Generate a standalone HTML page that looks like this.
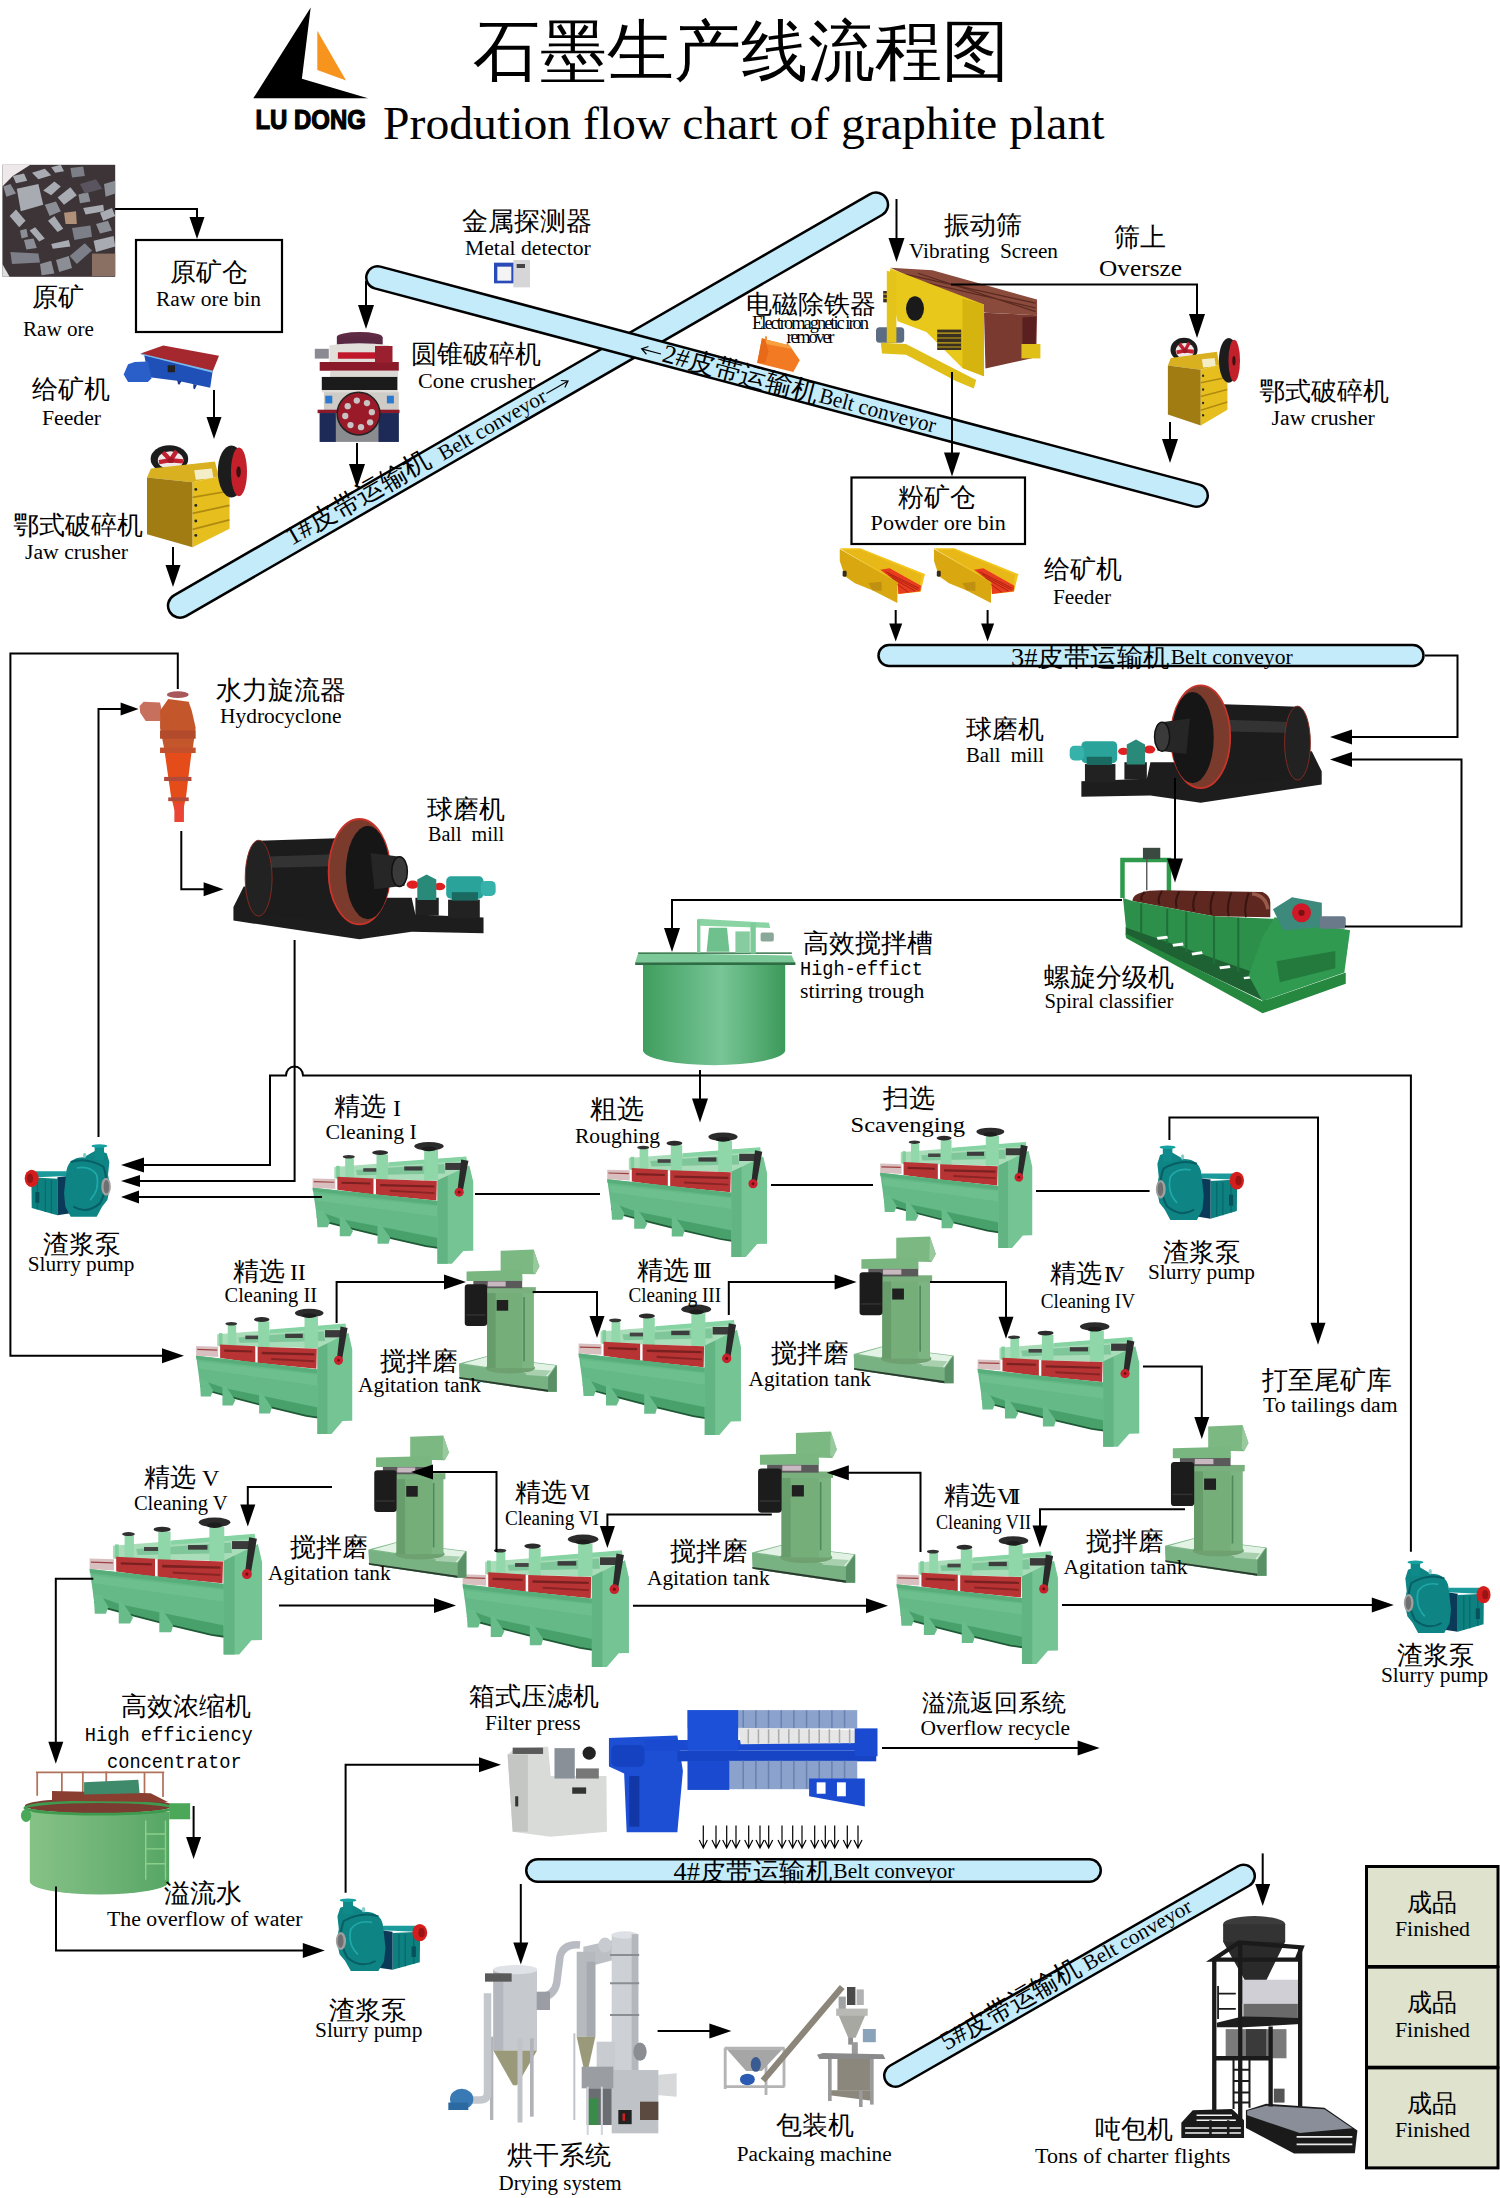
<!DOCTYPE html><html><head><meta charset="utf-8"><title>Graphite plant flow chart</title>
<style>html,body{margin:0;padding:0;background:#fff;}svg{display:block;}text{font-family:"Liberation Serif",serif;fill:#000;}.mono{font-family:"Liberation Mono",monospace;}</style></head><body>
<svg width="1500" height="2198" viewBox="0 0 1500 2198">
<rect width="1500" height="2198" fill="#fff"/>
<defs>
<g id="flot">
 <polygon points="240,275 1330,190 1345,395 240,372" fill="#a9dcb8"/>
 <polygon points="420,300 1150,250 1160,330 430,345" fill="#7fc79a"/>
 <rect x="1160" y="240" width="140" height="60" fill="#3a3a3a"/>
 <rect x="820" y="270" width="150" height="35" fill="#3d3d3d"/>
 <rect x="480" y="285" width="110" height="30" fill="#444"/>
 <polygon points="690,235 1335,185 1340,222 690,268" fill="#86d3a3"/>
 <rect x="985" y="130" width="115" height="260" fill="#8fd6a8"/>
 <rect x="590" y="168" width="95" height="215" fill="#8fd6a8"/>
 <rect x="330" y="195" width="72" height="170" fill="#93d8ab"/>
 <rect x="255" y="265" width="30" height="110" fill="#7fcf9c"/>
 <ellipse cx="1025" cy="98" rx="122" ry="36" fill="#2b2b2b"/>
 <ellipse cx="1025" cy="120" rx="60" ry="20" fill="#1d1d1d"/>
 <ellipse cx="620" cy="152" rx="66" ry="20" fill="#2b2b2b"/>
 <ellipse cx="360" cy="187" rx="50" ry="15" fill="#333"/>
 <polygon points="60,372 248,378 248,462 60,452" fill="#d9c0c0"/>
 <polygon points="70,395 240,400 240,410 70,405" fill="#a04040"/>
 <polygon points="265,358 565,374 565,512 265,470" fill="#b83434"/>
 <polygon points="585,378 1090,394 1086,560 585,512" fill="#b83434"/>
 <polygon points="300,400 540,408 540,425 300,418" fill="#7a2020"/>
 <polygon points="620,420 1070,432 1070,450 620,440" fill="#7a2020"/>
 <polygon points="700,470 1070,490 1070,505 700,487" fill="#8a2424"/>
 <polygon points="60,452 1100,565 1100,965 1000,950 700,880 400,805 200,752 95,700" fill="#64b986"/>
 <polygon points="60,452 1100,565 1100,600 62,482" fill="#58ae7a"/>
 <polygon points="80,500 1100,610 1100,700 90,560" fill="#6fc090" opacity="0.8"/>
 <polygon points="95,700 200,752 400,805 700,880 1000,950 1100,965 1100,880 700,800 300,720 100,650" fill="#3f9a62" opacity="0.75"/>
 <path d="M95,700 L200,752 L400,805 L700,880 L1000,950 L1100,965" fill="none" stroke="#1f5a36" stroke-width="14"/>
 <polygon points="90,640 150,650 205,740 185,790 100,790" fill="#68bc8a"/>
 <polygon points="285,700 310,700 395,820 372,865 285,865" fill="#68bc8a"/>
 <polygon points="598,760 622,760 705,880 690,930 598,930" fill="#68bc8a"/>
 <polygon points="1095,390 1360,262 1392,400 1392,990 1310,992 1215,1100 1095,1100" fill="#74c494"/>
 <polygon points="1095,390 1180,350 1180,1100 1095,1100" fill="#62b482"/>
 <polygon points="1292,210 1352,222 1305,485 1262,472" fill="#2a2a2a"/>
 <circle cx="1275" cy="490" r="38" fill="#c8202c"/>
 <circle cx="1275" cy="490" r="12" fill="#6a1010"/>
</g>
<g id="agit">
 <polygon points="50,1690 430,1590 1412,1712 1412,2090 1300,2090 60,1905" fill="#7fb88a"/>
 <polygon points="52,1700 1290,1885 1290,2088 60,1905" fill="#78b283"/>
 <polygon points="52,1880 1290,2060 1290,2088 60,1905" fill="#2a3a2e"/>
 <polygon points="1290,1885 1412,1712 1412,2088 1290,2088" fill="#5a9066"/>
 <polygon points="110,1690 430,1600 1395,1720 1285,1870" fill="#e2f2e4"/>
 <polygon points="1000,1770 1330,1790 1260,1870 980,1850" fill="#a8cfae"/>
 <ellipse cx="765" cy="1755" rx="345" ry="75" fill="#6fa070"/>
 <rect x="440" y="680" width="650" height="1075" fill="#76ae7a"/>
 <rect x="440" y="680" width="120" height="1075" fill="#679c6b"/>
 <rect x="930" y="700" width="160" height="1055" fill="#7cb482"/>
 <rect x="945" y="760" width="22" height="900" fill="#4e8a5a"/>
 <rect x="575" y="800" width="160" height="150" fill="#202020"/>
 <rect x="410" y="620" width="710" height="85" fill="#79b07e"/>
 <rect x="250" y="525" width="680" height="110" fill="#5a5a5a"/>
 <rect x="450" y="540" width="250" height="70" fill="#c8b8c0"/>
 <polygon points="630,110 1090,92 1170,330 1110,440 630,430" fill="#7cb882"/>
 <polygon points="1090,92 1170,330 1110,440 1080,400" fill="#98ca9e"/>
 <polygon points="155,400 930,380 935,530 155,532" fill="#7ab680"/>
 <rect x="130" y="580" width="312" height="585" rx="45" fill="#1c1c1c"/>
 <rect x="150" y="1000" width="270" height="20" fill="#333"/>
</g>
<g id="pump">
 <polygon points="230,470 690,470 720,540 240,560" fill="#1a9a9a"/>
 <polygon points="170,560 560,580 560,1130 175,1020" fill="#0d8080"/>
 <path d="M260,600 V1040 M380,600 V1080 M470,600 V1100" stroke="#0a6a6e" stroke-width="20"/>
 <polygon points="560,560 720,540 760,1100 560,1130" fill="#0a3a58"/>
 <rect x="230" y="780" width="60" height="160" fill="#08505a"/>
 <ellipse cx="175" cy="575" rx="105" ry="130" fill="#d41e1e"/>
 <ellipse cx="150" cy="575" rx="45" ry="70" fill="#9a1414"/>
 <path d="M690,520 Q700,260 960,260 L1060,200 L1150,150 L1300,200 L1340,330 L1320,520 L1350,700 L1310,900 L1230,1000 L1150,1150 L760,1150 L680,1000 L660,800 Z" fill="#0e8484"/>
 <path d="M760,330 Q1000,250 1250,400 Q1350,650 1200,950 Q1000,1120 800,1000" fill="none" stroke="#075e64" stroke-width="30"/>
 <path d="M850,420 Q1050,380 1150,520 Q1200,750 1050,900" fill="none" stroke="#20a8a8" stroke-width="25"/>
 <rect x="1120" y="100" width="140" height="200" fill="#0f8a8a"/>
 <ellipse cx="1190" cy="88" rx="118" ry="26" fill="#16a0a0"/>
 <ellipse cx="1290" cy="700" rx="72" ry="135" fill="#a0a0a0"/>
 <ellipse cx="1295" cy="700" rx="42" ry="100" fill="#707070"/>
 <ellipse cx="970" cy="230" rx="25" ry="40" fill="#8cc"/>
</g>
<g id="ball">
 <polygon points="45,520 100,410 300,420 740,470 1000,470 1020,560 1385,575 1385,660 1000,652 720,692 45,592" fill="#1d1d1d"/>
 <rect x="1020" y="470" width="125" height="95" fill="#202020"/>
 <rect x="1195" y="480" width="170" height="100" fill="#222"/>
 <path d="M180,165 L640,150 L640,590 L180,565 Z" fill="#1c1c1c"/>
 <path d="M190,250 L630,235 L630,300 L190,310 Z" fill="#333"/>
 <ellipse cx="180" cy="365" rx="72" ry="203" fill="#222" stroke="#8a2a20" stroke-width="5"/>
 <ellipse cx="720" cy="330" rx="165" ry="282" fill="#7a3a2c" stroke="#c8342a" stroke-width="10"/>
 <ellipse cx="765" cy="335" rx="118" ry="250" fill="#161616"/>
 <polygon points="780,230 940,250 962,405 800,425" fill="#262626"/>
 <ellipse cx="935" cy="330" rx="42" ry="80" fill="#3a3a3a" stroke="#111" stroke-width="8"/>
 <ellipse cx="1005" cy="400" rx="32" ry="22" fill="#e02020"/>
 <ellipse cx="1150" cy="410" rx="30" ry="20" fill="#e02020"/>
 <polygon points="1030,372 1080,345 1132,372 1132,482 1030,482" fill="#2a8a7a"/>
 <rect x="1185" y="355" width="200" height="120" rx="25" fill="#2aa39a"/>
 <rect x="1370" y="380" width="80" height="80" rx="25" fill="#36b2aa"/>
 <rect x="1215" y="440" width="140" height="45" fill="#1a6a62"/>
</g>
<g id="jaw">
 <ellipse cx="430" cy="300" rx="235" ry="172" fill="#1c1c1c"/>
 <ellipse cx="445" cy="315" rx="160" ry="112" fill="#f0e8e8"/>
 <path d="M445,315 L350,215 M445,315 L520,200 M445,315 L600,330 M445,315 L300,340" stroke="#c02030" stroke-width="55"/>
 <ellipse cx="445" cy="315" rx="45" ry="35" fill="#a01828"/>
 <polygon points="200,420 1000,330 1045,520 720,592 150,530" fill="#d8b020"/>
 <polygon points="740,440 960,420 980,540 760,560" fill="#f4eec8"/>
 <polygon points="150,530 720,592 720,1402 150,1242" fill="#a07c12"/>
 <polygon points="720,592 1045,520 1182,780 1182,1172 720,1402" fill="#e6bf1e"/>
 <path d="M720,780 L1180,700 M720,980 L1180,880 M720,1180 L1180,1060" stroke="#b08a10" stroke-width="22"/>
 <circle cx="760" cy="680" r="18" fill="#222"/><circle cx="760" cy="880" r="18" fill="#222"/>
 <circle cx="760" cy="1075" r="18" fill="#222"/><circle cx="760" cy="1255" r="18" fill="#222"/>
 <ellipse cx="1205" cy="455" rx="170" ry="325" fill="#1c1c1c"/>
 <ellipse cx="1300" cy="460" rx="100" ry="305" fill="#c4202c"/>
 <ellipse cx="1295" cy="460" rx="28" ry="70" fill="#3a1010"/>
</g>
<g id="yfeed">
 <polygon points="70,80 380,78 1355,470 1340,500 1285,730 950,765 940,600" fill="#f2c41c"/>
 <polygon points="120,110 380,100 1300,480 1270,650 930,560" fill="#e8b818"/>
 <polygon points="680,400 820,380 1290,640 1280,725 950,765 940,600" fill="#e83c1e"/>
 <path d="M760,430 L1260,680 M800,470 L1240,700 M850,520 L1200,720 M880,580 L1100,740" stroke="#a82010" stroke-width="14"/>
 <polygon points="72,90 940,590 935,900 560,710 300,605 150,500 72,270" fill="#d9a810"/>
 <polygon points="500,600 700,580 700,720 560,710" fill="#c09010"/>
 <rect x="115" y="415" width="60" height="90" rx="20" fill="#3a2a18"/>
</g></defs>
<use href="#flot" transform="translate(312.00,1142.40) scale(0.12060,0.11720) translate(-55,-65)"/>
<use href="#flot" transform="translate(606.60,1132.80) scale(0.12000,0.12000) translate(-55,-65)"/>
<use href="#flot" transform="translate(879.60,1128.00) scale(0.11416,0.11594) translate(-55,-65)"/>
<use href="#flot" transform="translate(195.50,1309.00) scale(0.11723,0.12077) translate(-55,-65)"/>
<use href="#flot" transform="translate(578.00,1305.00) scale(0.12187,0.12560) translate(-55,-65)"/>
<use href="#flot" transform="translate(977.00,1322.60) scale(0.12135,0.12000) translate(-55,-65)"/>
<use href="#flot" transform="translate(89.00,1518.00) scale(0.12944,0.13198) translate(-55,-65)"/>
<use href="#flot" transform="translate(462.00,1535.00) scale(0.12487,0.12754) translate(-55,-65)"/>
<use href="#flot" transform="translate(896.00,1536.60) scale(0.12112,0.12309) translate(-55,-65)"/>
<use href="#agit" transform="translate(459.00,1249.00) scale(0.07179,0.07132) translate(-50,-85)"/>
<use href="#agit" transform="translate(853.70,1236.00) scale(0.07333,0.07347) translate(-50,-85)"/>
<use href="#agit" transform="translate(368.50,1435.00) scale(0.07187,0.07132) translate(-50,-85)"/>
<use href="#agit" transform="translate(752.00,1431.00) scale(0.07575,0.07571) translate(-50,-85)"/>
<use href="#agit" transform="translate(1165.00,1424.50) scale(0.07451,0.07556) translate(-50,-85)"/>
<use href="#pump" transform="translate(24.70,1144.70) scale(0.06667,0.06667) translate(-70,-70)"/>
<use href="#pump" transform="translate(1244.00,1146.00) scale(-0.06822,0.06852) translate(-70,-70)"/>
<use href="#pump" transform="translate(1490.60,1561.00) scale(-0.06713,0.06667) translate(-70,-70)"/>
<use href="#pump" transform="translate(427.20,1899.00) scale(-0.07070,0.06667) translate(-70,-70)"/>
<use href="#ball" transform="translate(232.50,818.40) scale(0.18664,0.18677) translate(-40,-45)"/>
<use href="#ball" transform="translate(1322.60,684.80) scale(-0.17936,0.18220) translate(-40,-45)"/>
<use href="#jaw" transform="translate(143.00,445.40) scale(0.08000,0.08000) translate(-100,-130)"/>
<use href="#jaw" transform="translate(1165.00,338.00) scale(0.05769,0.06876) translate(-100,-130)"/>
<use href="#yfeed" transform="translate(839.30,547.70) scale(0.06672,0.06663) translate(-65,-70)"/>
<use href="#yfeed" transform="translate(933.50,547.70) scale(0.06602,0.06663) translate(-65,-70)"/>
<g transform="translate(120,340) scale(0.073335)">
 <polygon points="280,185 590,75 1350,215 1262,432 330,205" fill="#a4282e"/>
 <polygon points="330,205 1262,432 1230,650 800,560 430,512 372,420" fill="#1f50b8"/>
 <polygon points="280,180 1268,420 1262,445 290,200" fill="#7ab8ec"/>
 <polygon points="50,470 110,330 200,300 380,292 432,522 380,572 110,572" fill="#2a5ec8"/>
 <rect x="650" y="345" width="100" height="95" fill="#222"/>
 <polygon points="780,550 840,560 810,610 790,600" fill="#1a3a90"/>
 <polygon points="1000,600 1050,610 1020,670 1000,660" fill="#1a3a90"/>
</g>
<g transform="translate(305,325) scale(0.069999)">
 <ellipse cx="780" cy="170" rx="325" ry="70" fill="#5e2a44"/>
 <rect x="455" y="170" width="655" height="110" fill="#5a2840"/>
 <path d="M350,290 Q780,230 1200,290 L1200,535 L350,535 Z" fill="#e2deda"/>
 <rect x="470" y="390" width="630" height="92" fill="#c0182a"/>
 <path d="M210,530 L1340,530 L1340,655 L210,655 Z" fill="#8a1a2a"/>
 <rect x="1000" y="300" width="250" height="240" fill="#9a2030"/>
 <rect x="360" y="655" width="970" height="90" fill="#dcd8d4"/>
 <rect x="240" y="742" width="1080" height="190" fill="#1b1b1b"/>
 <rect x="240" y="930" width="1090" height="32" fill="#e0dcd8"/>
 <rect x="270" y="960" width="1070" height="270" fill="#cfcbc6"/>
 <rect x="290" y="1010" width="100" height="110" fill="#2a7ad0"/>
 <rect x="1170" y="1010" width="100" height="110" fill="#2a7ad0"/>
 <rect x="180" y="1210" width="1170" height="50" fill="#8a1a2a"/>
 <rect x="210" y="1258" width="1130" height="412" fill="#8a8c90"/>
 <rect x="210" y="1258" width="230" height="412" fill="#1d2a58"/>
 <rect x="1050" y="1258" width="290" height="412" fill="#1d2a58"/>
 <rect x="140" y="340" width="200" height="140" fill="#8a8a92"/>
 <circle cx="765" cy="1265" r="305" fill="#9a1a2a" stroke="#222" stroke-width="22"/>
 <g fill="#c8c4c4"><circle cx="740" cy="1080" r="45"/><circle cx="885" cy="1115" r="45"/><circle cx="955" cy="1245" r="45"/>
 <circle cx="930" cy="1390" r="45"/><circle cx="800" cy="1460" r="45"/><circle cx="650" cy="1430" r="45"/>
 <circle cx="575" cy="1300" r="45"/><circle cx="610" cy="1160" r="45"/></g>
</g>
<g transform="translate(0,160) scale(0.080000)">
 <rect x="30" y="60" width="1410" height="1400" fill="#3c3436"/>
 <polygon points="30,60 380,60 160,200 30,330" fill="#eee8ea"/>
 <polygon points="30,1300 120,1460 30,1460" fill="#ddd"/>
 <g fill="#a9abb3">
 <polygon points="210,360 480,300 540,560 260,640"/>
 <polygon points="720,470 880,340 960,440 800,560"/>
 <polygon points="540,380 680,270 760,330 640,440"/>
 <polygon points="120,700 200,620 320,760 240,840"/>
 <polygon points="370,880 440,840 560,980 490,1020"/>
 <polygon points="600,760 680,700 790,860 720,900"/>
 <polygon points="640,1050 860,1000 880,1080 660,1110"/>
 <polygon points="1170,1010 1420,950 1440,1080 1200,1150"/>
 <polygon points="1250,660 1400,600 1440,700 1290,760"/>
 <polygon points="1040,600 1290,560 1300,640 1070,680"/>
 <polygon points="400,160 560,110 640,190 480,240"/>
 <polygon points="640,90 760,60 800,140 690,160"/>
 <polygon points="160,200 300,170 340,260 200,290"/>
 </g>
 <g fill="#7c7e88">
 <polygon points="870,1200 1060,1040 1150,1130 960,1300"/>
 <polygon points="900,850 1130,820 1150,960 930,1000"/>
 <polygon points="130,1150 480,1170 500,1280 150,1300"/>
 <polygon points="880,100 1040,80 1060,200 900,220"/>
 </g>
 <g fill="#8c8e96">
 <polygon points="40,330 130,300 200,420 80,460"/>
 <polygon points="560,560 700,520 760,640 620,700"/>
 <polygon points="300,1000 420,980 460,1100 330,1120"/>
 <polygon points="700,1250 860,1200 900,1350 740,1400"/>
 <polygon points="1300,300 1440,260 1440,420 1320,460"/>
 <polygon points="500,1300 640,1260 680,1420 520,1440"/>
 <polygon points="1200,800 1350,760 1400,880 1250,920"/>
 <polygon points="980,430 1100,400 1130,520 1000,540"/>
 <polygon points="250,880 330,860 350,960 270,980"/>
 </g>
 <polygon points="1000,300 1200,240 1280,360 1060,420" fill="#5a5460"/>
 <polygon points="800,660 950,640 960,800 820,800" fill="#b09078"/>
 <polygon points="1150,1170 1440,1170 1440,1450 1150,1450" fill="#8a7062"/>
</g>
<g transform="translate(300,170) scale(0.333333)">
 <rect x="582" y="278" width="60" height="62" fill="#2a4ab8"/>
 <rect x="592" y="290" width="42" height="42" fill="#f4f4f4"/>
 <rect x="640" y="270" width="50" height="82" fill="#d6d6d8"/>
 <rect x="650" y="282" width="25" height="12" fill="#444"/>
</g>
<g transform="translate(620,320) scale(0.226757)">
 <polygon points="626,81 748,112 793,178 764,229 605,190" fill="#f27a22"/>
 <polygon points="626,81 748,112 760,128 632,104" fill="#f8a040"/>
 <polygon points="626,81 640,84 655,140 640,190 605,190" fill="#e86a18"/>
 <rect x="640" y="72" width="8" height="16" fill="#e88a30"/>
 <rect x="735" y="98" width="8" height="16" fill="#e88a30"/>
</g>
<g transform="translate(870,260) scale(0.120005)">
 <polygon points="170,65 520,85 1392,330 1392,460 962,440" fill="#8a4a3c"/>
 <polygon points="950,440 1392,460 1385,810 962,905" fill="#7a3a30"/>
 <polygon points="1270,480 1385,470 1380,720 1270,700" fill="#5a2020"/>
 <path d="M300,120 L1380,360 M300,150 L1380,400 M400,110 L1380,430" stroke="#5a2a20" stroke-width="10"/>
 <polygon points="170,70 950,370 950,968 770,900 470,600 230,510 150,170" fill="#e8c81a"/>
 <polygon points="770,320 950,370 950,968 770,900" fill="#d6b410"/>
 <ellipse cx="375" cy="405" rx="75" ry="102" fill="#1a1a1a"/>
 <rect x="110" y="258" width="105" height="95" fill="#3a3020"/>
 <rect x="560" y="580" width="200" height="170" fill="#3a3020"/>
 <path d="M560,610 H760 M560,650 H760 M560,690 H760 M560,725 H760 M110,285 H215 M110,320 H215" stroke="#c8a818" stroke-width="10"/>
 <rect x="50" y="560" width="235" height="130" rx="30" fill="#5c6c82"/>
 <polygon points="90,690 300,700 885,1000 865,1070 720,1010 300,790 100,780" fill="#e0c018"/>
 <polygon points="1262,700 1420,700 1420,820 1262,820" fill="#e0c018"/>
 <polygon points="140,90 220,110 220,690 140,690" fill="#e4c41a"/>
</g>
<g transform="translate(1110,840) scale(0.173340)">
 <path d="M72,335 V115 H340 V295" fill="none" stroke="#2f9a4c" stroke-width="26"/>
 <path d="M212,60 V290" stroke="#555" stroke-width="8"/>
 <rect x="190" y="45" width="100" height="65" fill="#3a4a40"/>
 <path d="M130,345 Q140,290 300,290 L880,300 Q925,320 925,360 L925,445 L600,440 L130,352 Z" fill="#5e2820"/>
 <path d="M200,300 Q170,330 185,350 M300,295 Q270,340 285,370 M400,297 Q370,350 385,390 M500,298 Q470,360 485,410 M600,300 Q570,370 585,430 M700,302 Q670,380 685,440 M800,305 Q770,390 785,445" fill="none" stroke="#3a1410" stroke-width="12"/>
 <path d="M820,310 Q900,320 910,400" fill="none" stroke="#9a5a4a" stroke-width="20"/>
 <polygon points="90,500 905,785 900,935 90,548" fill="#1e6234"/>
 <polygon points="75,335 130,352 600,440 945,455 905,790 92,505" fill="#2c904a"/>
 <path d="M180,368 L180,540 M330,395 L330,600 M440,416 L440,645 M600,440 L600,712 M740,448 L740,760" stroke="#1f7038" stroke-width="12"/>
 <g fill="#ffffff"><polygon points="270,560 330,552 335,568 275,576"/><polygon points="360,600 420,592 425,608 365,616"/><polygon points="470,650 530,642 535,658 475,666"/><polygon points="630,730 690,722 695,738 635,746"/><polygon points="770,790 820,784 824,798 774,804"/></g>
 <polygon points="90,540 880,930 1360,765 1360,830 880,1000 92,565" fill="#26883f"/>
 <polygon points="880,560 950,445 1385,520 1352,765 880,930 800,780" fill="#2f9a50"/>
 <polygon points="960,700 1300,640 1300,740 980,820" fill="#247a3c"/>
 <polygon points="940,400 1050,330 1222,362 1222,502 1000,522" fill="#3d8a7c"/>
 <circle cx="1105" cy="420" r="55" fill="#d01828"/>
 <circle cx="1105" cy="420" r="18" fill="#7a1010"/>
 <rect x="1210" y="440" width="150" height="72" rx="15" fill="#6a7a8a"/>
</g>
<g transform="translate(625,905) scale(0.120005)">
 <defs><linearGradient id="gst" x1="0" x2="1"><stop offset="0" stop-color="#3f9e5e"/><stop offset="0.55" stop-color="#78c596"/><stop offset="1" stop-color="#3c9a5a"/></linearGradient></defs>
 <path d="M150,500 L1335,500 L1335,1215 A593,125 0 0 1 150,1215 Z" fill="url(#gst)"/>
 <polygon points="110,400 1390,420 1420,490 85,480" fill="#7cc898"/>
 <rect x="85" y="478" width="1335" height="22" fill="#2f6e44"/>
 <rect x="110" y="395" width="1280" height="12" fill="#2f6e44"/>
 <polygon points="610,115 1200,148 1210,192 620,172" fill="#8ad4a4"/>
 <rect x="600" y="120" width="28" height="280" fill="#7ccb98"/>
 <rect x="1045" y="150" width="45" height="255" fill="#7ccb98"/>
 <polygon points="700,190 850,190 870,390 680,390" fill="#6ec08c"/>
 <rect x="920" y="220" width="120" height="180" fill="#86cca0"/>
 <rect x="1130" y="230" width="110" height="75" rx="15" fill="#8aa89a"/>
</g>
<g transform="translate(130,680) scale(0.068259)">
 <ellipse cx="700" cy="215" rx="160" ry="50" fill="#a8585a"/>
 <polygon points="140,380 200,320 440,330 460,420 440,600 230,600 150,480" fill="#c8705e"/>
 <polygon points="560,280 860,320 905,450 962,700 920,1000 500,1000 440,700 440,450" fill="#c4562c"/>
 <rect x="440" y="740" width="522" height="120" fill="#b24a2c"/>
 <rect x="440" y="990" width="522" height="80" fill="#c2502c"/>
 <polygon points="510,1070 900,1070 822,1700 782,1900 650,1900 600,1700" fill="#e44c1a"/>
 <rect x="500" y="1420" width="400" height="60" fill="#b04a3a"/>
 <rect x="560" y="1720" width="300" height="55" fill="#b04a3a"/>
 <rect x="650" y="1800" width="140" height="280" fill="#ea4434"/>
</g>
<g transform="translate(15,1765) scale(0.123335)">
 <defs><linearGradient id="gcon" x1="0" x2="1"><stop offset="0" stop-color="#86c286"/><stop offset="0.5" stop-color="#70b478"/><stop offset="1" stop-color="#56a664"/></linearGradient></defs>
 <path d="M120,380 L1250,380 L1250,945 A565,105 0 0 1 120,945 Z" fill="url(#gcon)"/>
 <ellipse cx="680" cy="330" rx="600" ry="62" fill="#7a3c30"/>
 <ellipse cx="680" cy="348" rx="600" ry="50" fill="none" stroke="#3e9a4e" stroke-width="22"/>
 <path d="M170,60 H1210 M180,60 V250 M380,60 V220 M550,50 V220 M740,50 V220 M1050,60 V250 M1200,60 V260" fill="none" stroke="#b0725a" stroke-width="14"/>
 <polygon points="300,210 1100,230 1240,300 300,290" fill="#8a3e30"/>
 <polygon points="560,140 1000,120 1010,230 560,240" fill="#3e8a6a"/>
 <rect x="1250" y="310" width="170" height="130" fill="#4aa858"/>
 <path d="M1060,450 V930 M1220,450 V930 M1060,560 H1220 M1060,680 H1220 M1060,800 H1220" fill="none" stroke="#8ccf8a" stroke-width="12"/>
 <ellipse cx="90" cy="410" rx="42" ry="52" fill="#4aa858"/>
</g>
<g transform="translate(500,1700) scale(0.253357)">
 <polygon points="30,215 60,190 190,185 200,300 420,300 422,520 200,540 50,520" fill="#d9dbd9"/>
 <polygon points="30,215 110,215 110,520 50,520" fill="#c4c6c4"/>
 <rect x="50" y="188" width="120" height="25" fill="#5a5a5a"/>
 <rect x="215" y="190" width="80" height="120" fill="#8a9098"/>
 <circle cx="352" cy="210" r="26" fill="#222"/>
 <rect x="300" y="270" width="90" height="40" fill="#777"/>
 <rect x="285" y="345" width="55" height="25" fill="#333"/>
 <rect x="60" y="380" width="12" height="40" fill="#333"/>
 <polygon points="430,150 700,140 722,280 700,522 500,522 490,290 430,262" fill="#1c4fd4"/>
 <rect x="440" y="178" width="130" height="85" rx="20" fill="#1442c0"/>
 <rect x="510" y="300" width="40" height="200" fill="#1238a8"/>
 <rect x="570" y="158" width="915" height="42" fill="#1a4ad0"/>
 <rect x="700" y="200" width="785" height="42" fill="#1644c4"/>
 <rect x="740" y="40" width="670" height="72" fill="#8aa2cc"/>
 <rect x="900" y="240" width="510" height="112" fill="#8aa2cc"/>
 <path d="M960,40 V110 M1010,40 V110 M1060,40 V110 M1110,40 V110 M1160,40 V110 M1210,40 V110 M1260,40 V110 M1310,40 V110 M1360,40 V110 M960,240 V350 M1010,240 V350 M1060,240 V350 M1110,240 V350 M1160,240 V350 M1210,240 V350 M1260,240 V350 M1310,240 V350 M1360,240 V350" stroke="#6a82b0" stroke-width="6"/>
 <polygon points="940,110 1440,120 1440,170 950,175" fill="#e6e6e6"/>
 <path d="M980,115 V172 M1020,115 V172 M1060,115 V172 M1100,115 V172 M1140,115 V172 M1180,115 V172 M1220,115 V172 M1260,115 V172 M1300,115 V172 M1340,115 V172 M1380,115 V172 M1420,115 V172" stroke="#aaa" stroke-width="6"/>
 <rect x="740" y="40" width="200" height="160" fill="#1c50d8"/>
 <rect x="740" y="240" width="165" height="115" fill="#1a4ad0"/>
 <rect x="1400" y="112" width="90" height="110" fill="#1a4ad0"/>
 <polygon points="1220,310 1440,310 1440,420 1220,380" fill="#1a4ad0"/>
 <rect x="1250" y="325" width="35" height="45" fill="#fff"/><rect x="1330" y="325" width="35" height="55" fill="#fff"/>
</g>
<g transform="translate(440,1920) scale(0.166667)">
 <path d="M580,460 Q680,470 700,380 L720,220 Q740,140 840,150" fill="none" stroke="#b8bcc2" stroke-width="45"/>
 <rect x="320" y="295" width="262" height="488" fill="#c6cacf"/>
 <rect x="320" y="295" width="60" height="488" fill="#b4b8be"/>
 <ellipse cx="452" cy="298" rx="132" ry="28" fill="#dfe2e6"/>
 <polygon points="320,783 582,783 462,992 438,992" fill="#9a9a7a"/>
 <rect x="270" y="320" width="160" height="50" fill="#5a5a5a"/>
 <rect x="300" y="700" width="20" height="500" fill="#b0b4b8"/>
 <rect x="465" y="710" width="30" height="505" fill="#c0c4c8"/>
 <rect x="540" y="710" width="22" height="470" fill="#b0b4b8"/>
 <path d="M285,440 V1040 Q285,1080 240,1080 L170,1080" fill="none" stroke="#c4c8cc" stroke-width="45"/>
 <ellipse cx="130" cy="1075" rx="70" ry="62" fill="#3a7ab4"/>
 <rect x="50" y="1095" width="120" height="45" fill="#2a6aa0"/>
 <rect x="580" y="430" width="80" height="110" fill="#9a9ea4"/>
 <polygon points="860,160 1040,120 1040,240 930,270 860,250" fill="#bcc0c5"/>
 <ellipse cx="990" cy="150" rx="40" ry="45" fill="#c8ccd0"/>
 <polygon points="820,190 932,190 932,700 820,700" fill="#b6babf"/>
 <polygon points="880,250 932,250 932,700 880,700" fill="#a6aaaf"/>
 <polygon points="820,700 932,700 890,890 862,890" fill="#9a9a7a"/>
 <rect x="800" y="680" width="12" height="520" fill="#c0c4c8"/>
 <rect x="1030" y="85" width="160" height="915" fill="#cdd1d5"/>
 <ellipse cx="1110" cy="90" rx="80" ry="22" fill="#dde0e4"/>
 <rect x="1150" y="85" width="40" height="915" fill="#b4b8bc"/>
 <path d="M1020,210 H1195 M1020,380 H1195 M1020,570 H1195" stroke="#8a8e92" stroke-width="12"/>
 <rect x="940" y="730" width="110" height="170" fill="#c8ccd0"/>
 <ellipse cx="1200" cy="790" rx="40" ry="55" fill="#8a8e92"/>
 <polygon points="1300,930 1420,920 1420,1060 1300,1050" fill="#d6d8da"/>
 <rect x="1030" y="900" width="280" height="380" fill="#bfc3c7"/>
 <rect x="1070" y="1140" width="80" height="85" fill="#222"/>
 <rect x="1095" y="1160" width="15" height="45" fill="#d02020"/>
 <rect x="1200" y="1090" width="110" height="110" fill="#5a4a40"/>
 <rect x="850" y="880" width="190" height="130" fill="#9a9ea2"/>
 <rect x="880" y="1010" width="150" height="220" fill="#6a6e72"/>
 <rect x="890" y="1070" width="60" height="160" fill="#3a8a4a"/>
 <rect x="880" y="1000" width="12" height="290" fill="#d0d4d8"/>
 <rect x="965" y="1000" width="12" height="290" fill="#d0d4d8"/>
</g>
<g transform="translate(715,1975) scale(0.120005)">
 <path d="M80,610 H580 M85,610 V950 M425,640 V1000 M575,610 V930 M90,930 H580" fill="none" stroke="#b4b4b4" stroke-width="24"/>
 <polygon points="100,620 560,620 390,800 260,800" fill="#a6a6a6"/>
 <line x1="400" y1="880" x2="1060" y2="100" stroke="#8c867a" stroke-width="52"/>
 <ellipse cx="270" cy="870" rx="62" ry="48" fill="#2a5ab2"/>
 <ellipse cx="340" cy="745" rx="42" ry="62" fill="#3a5a92"/>
 <rect x="1100" y="100" width="70" height="150" fill="#4a4a4a"/>
 <rect x="1180" y="120" width="60" height="130" fill="#b0b2b4"/>
 <rect x="1030" y="180" width="60" height="110" fill="#a0a2a4"/>
 <polygon points="1010,290 1272,290 1172,522 1110,522" fill="#a8a8a2"/>
 <rect x="1010" y="280" width="262" height="60" fill="#b8b8b4"/>
 <rect x="1110" y="520" width="40" height="60" fill="#909090"/>
 <rect x="1232" y="450" width="108" height="110" fill="#8aa2ba"/>
 <rect x="1140" y="560" width="50" height="100" fill="#9a9a9a"/>
 <polygon points="850,665 900,650 1400,660 1420,700 870,700" fill="#8a8a8a"/>
 <rect x="1020" y="700" width="272" height="262" fill="#8c877c"/>
 <polygon points="960,960 1290,960 1320,1050 940,1000" fill="#8c877c"/>
 <rect x="942" y="700" width="30" height="350" fill="#9a9a9a"/>
 <rect x="1292" y="700" width="30" height="380" fill="#9a9a9a"/>
 <rect x="1200" y="960" width="30" height="140" fill="#9a9a9a"/>
</g>
<g transform="translate(1175,1905) scale(0.126662)">
 <polygon points="560,1620 720,1570 1180,1600 1440,1780 1420,1960 940,1962 560,1760" fill="#1a1a1a"/>
 <polygon points="570,1625 720,1585 1180,1612 1400,1762 985,1800 570,1660" fill="#8a8e98"/>
 <path d="M960,1830 H1400 M960,1890 H1400" stroke="#e8e8e8" stroke-width="14"/>
 <polygon points="50,1720 140,1620 450,1610 545,1700 545,1840 50,1840" fill="#1a1a1a"/>
 <path d="M80,1760 H520 M80,1800 H520 M170,1660 H450 M170,1700 H480" stroke="#f4f4f4" stroke-width="12"/>
 <path d="M280,1700 V1840 M420,1700 V1840" stroke="#1a1a1a" stroke-width="20"/>
 <ellipse cx="625" cy="152" rx="245" ry="65" fill="#3c3c3c"/>
 <rect x="380" y="152" width="490" height="140" fill="#333"/>
 <polygon points="380,290 870,290 722,592 550,592" fill="#2a2a2a"/>
 <rect x="530" y="590" width="442" height="190" fill="#cfcfd5"/>
 <rect x="540" y="780" width="430" height="110" fill="#6a6a6a"/>
 <rect x="400" y="980" width="480" height="230" fill="#7a7a7a"/>
 <rect x="560" y="980" width="160" height="230" fill="#3a3a3a"/>
 <polygon points="330,930 530,880 990,890 990,940 540,965 330,965" fill="#1e1e1e"/>
 <g stroke="#1a1a1a" stroke-width="34" fill="none">
  <path d="M310,430 V1620 M515,300 V1740 M988,335 V1590 M755,960 V1590"/>
  <path d="M300,432 L505,295 L1000,335 L960,432 Z"/>
  <path d="M310,1210 H760"/>
 </g>
 <path d="M335,700 H480 M335,820 H480 M340,640 V900" stroke="#1a1a1a" stroke-width="14"/>
 <path d="M462,1220 V1610 M588,1220 V1600 M462,1300 H588 M462,1390 H588 M462,1480 H588 M462,1560 H588" stroke="#1a1a1a" stroke-width="16"/>
 <rect x="780" y="1450" width="85" height="110" fill="#555"/>
</g>
<rect x="136" y="240" width="146" height="92" fill="none" stroke="#000" stroke-width="2.2"/>
<rect x="851.5" y="477.5" width="173.5" height="66.5" fill="none" stroke="#000" stroke-width="2.2"/>
<rect x="1366.5" y="1866.5" width="131.5" height="100" fill="#dfe2cd" stroke="#000" stroke-width="3"/>
<rect x="1366.5" y="1967.2" width="131.5" height="100" fill="#dfe2cd" stroke="#000" stroke-width="3"/>
<rect x="1366.5" y="2067.9" width="131.5" height="100" fill="#dfe2cd" stroke="#000" stroke-width="3"/>
<line x1="180" y1="605.7" x2="876" y2="204.6" stroke="#000" stroke-width="26.5" stroke-linecap="round"/>
<line x1="180" y1="605.7" x2="876" y2="204.6" stroke="#c3ebfa" stroke-width="21.5" stroke-linecap="round"/>
<line x1="377.5" y1="277.5" x2="1196.5" y2="495.5" stroke="#000" stroke-width="25" stroke-linecap="round"/>
<line x1="377.5" y1="277.5" x2="1196.5" y2="495.5" stroke="#c3ebfa" stroke-width="20.0" stroke-linecap="round"/>
<line x1="889" y1="655.5" x2="1413" y2="655.5" stroke="#000" stroke-width="23.5" stroke-linecap="round"/>
<line x1="889" y1="655.5" x2="1413" y2="655.5" stroke="#c3ebfa" stroke-width="18.5" stroke-linecap="round"/>
<line x1="537.5" y1="1870.5" x2="1089.5" y2="1870.5" stroke="#000" stroke-width="25" stroke-linecap="round"/>
<line x1="537.5" y1="1870.5" x2="1089.5" y2="1870.5" stroke="#c3ebfa" stroke-width="20.0" stroke-linecap="round"/>
<line x1="895.5" y1="2075.5" x2="1243.5" y2="1876" stroke="#000" stroke-width="25" stroke-linecap="round"/>
<line x1="895.5" y1="2075.5" x2="1243.5" y2="1876" stroke="#c3ebfa" stroke-width="20.0" stroke-linecap="round"/>
<polyline points="115.0,209.0 197.0,209.0 197.0,219.0" fill="none" stroke="#000" stroke-width="2"/>
<polygon points="197.0,239.0 189.5,217.0 204.5,217.0" fill="#000"/>
<polyline points="214.0,390.0 214.0,419.0" fill="none" stroke="#000" stroke-width="2"/>
<polygon points="214.0,439.0 206.5,417.0 221.5,417.0" fill="#000"/>
<polyline points="173.0,547.0 173.0,567.0" fill="none" stroke="#000" stroke-width="2"/>
<polygon points="173.0,587.0 165.5,565.0 180.5,565.0" fill="#000"/>
<polyline points="366.0,281.0 366.0,307.0" fill="none" stroke="#000" stroke-width="2"/>
<polygon points="366.0,329.0 358.0,305.0 374.0,305.0" fill="#000"/>
<polyline points="357.0,443.0 357.0,466.0" fill="none" stroke="#000" stroke-width="2"/>
<polygon points="357.0,488.0 349.0,464.0 365.0,464.0" fill="#000"/>
<polyline points="896.5,199.0 896.5,240.0" fill="none" stroke="#000" stroke-width="2"/>
<polygon points="896.5,262.0 888.5,238.0 904.5,238.0" fill="#000"/>
<polyline points="951.0,284.5 1197.0,284.5 1197.0,316.0" fill="none" stroke="#000" stroke-width="2"/>
<polygon points="1197.0,338.0 1189.0,314.0 1205.0,314.0" fill="#000"/>
<polyline points="952.0,372.0 952.0,454.5" fill="none" stroke="#000" stroke-width="2"/>
<polygon points="952.0,476.5 944.0,452.5 960.0,452.5" fill="#000"/>
<polyline points="1170.0,422.0 1170.0,441.0" fill="none" stroke="#000" stroke-width="2"/>
<polygon points="1170.0,463.0 1162.0,439.0 1178.0,439.0" fill="#000"/>
<polyline points="895.7,610.0 895.7,625.5" fill="none" stroke="#000" stroke-width="2"/>
<polygon points="895.7,641.5 889.2,623.5 902.2,623.5" fill="#000"/>
<polyline points="987.6,610.0 987.6,625.5" fill="none" stroke="#000" stroke-width="2"/>
<polygon points="987.6,641.5 981.1,623.5 994.1,623.5" fill="#000"/>
<polyline points="1425.0,655.5 1457.5,655.5 1457.5,737.0 1350.0,737.0" fill="none" stroke="#000" stroke-width="2"/>
<polygon points="1330.0,737.0 1352.0,729.5 1352.0,744.5" fill="#000"/>
<polyline points="1345.0,926.5 1461.5,926.5 1461.5,759.5 1350.0,759.5" fill="none" stroke="#000" stroke-width="2"/>
<polygon points="1330.0,759.5 1352.0,752.0 1352.0,767.0" fill="#000"/>
<polyline points="1175.0,778.0 1175.0,860.5" fill="none" stroke="#000" stroke-width="2"/>
<polygon points="1175.0,882.5 1167.0,858.5 1183.0,858.5" fill="#000"/>
<polyline points="1122.0,900.0 672.0,900.0 672.0,930.0" fill="none" stroke="#000" stroke-width="2"/>
<polygon points="672.0,952.0 664.0,928.0 680.0,928.0" fill="#000"/>
<polyline points="700.0,1070.0 700.0,1100.5" fill="none" stroke="#000" stroke-width="2"/>
<polygon points="700.0,1122.5 692.0,1098.5 708.0,1098.5" fill="#000"/>
<polyline points="177.8,689.0 177.8,653.6 10.4,653.6 10.4,1355.7 164.0,1355.7" fill="none" stroke="#000" stroke-width="2"/>
<polygon points="184.0,1355.7 162.0,1363.2 162.0,1348.2" fill="#000"/>
<polyline points="98.5,1137.0 98.5,709.0 122.6,709.0" fill="none" stroke="#000" stroke-width="2"/>
<polygon points="138.6,709.0 120.6,715.5 120.6,702.5" fill="#000"/>
<polyline points="181.3,831.0 181.3,889.3 205.6,889.3" fill="none" stroke="#000" stroke-width="2"/>
<polygon points="223.6,889.3 203.6,896.3 203.6,882.3" fill="#000"/>
<path d="M294.6,940 L294.6,1181 L140,1181" fill="none" stroke="#000" stroke-width="2"/>
<polygon points="121,1181 140,1175 140,1187" fill="#000"/>
<path d="M1410.9,1551.7 L1410.9,1075.5 L303,1075.5 A8.5,9 0 0 0 286,1075.5 L270,1075.5 L270,1165 L142,1165" fill="none" stroke="#000" stroke-width="2"/>
<polygon points="121,1165 144,1157.5 144,1172.5" fill="#000"/>
<polyline points="322.0,1197.0 137.0,1197.0" fill="none" stroke="#000" stroke-width="2"/>
<polygon points="121.0,1197.0 139.0,1190.5 139.0,1203.5" fill="#000"/>
<polyline points="475.0,1194.0 600.0,1194.0" fill="none" stroke="#000" stroke-width="2"/>
<polyline points="771.0,1185.0 873.0,1185.0" fill="none" stroke="#000" stroke-width="2"/>
<polyline points="1036.0,1191.0 1149.6,1191.0" fill="none" stroke="#000" stroke-width="2"/>
<polyline points="1169.4,1140.0 1169.4,1117.6 1318.0,1117.6 1318.0,1324.8" fill="none" stroke="#000" stroke-width="2"/>
<polygon points="1318.0,1344.8 1310.5,1322.8 1325.5,1322.8" fill="#000"/>
<polyline points="336.6,1323.0 336.6,1282.0 446.0,1282.0" fill="none" stroke="#000" stroke-width="2"/>
<polygon points="466.0,1282.0 444.0,1289.5 444.0,1274.5" fill="#000"/>
<polyline points="532.7,1292.0 597.0,1292.0 597.0,1318.0" fill="none" stroke="#000" stroke-width="2"/>
<polygon points="597.0,1338.0 589.5,1316.0 604.5,1316.0" fill="#000"/>
<polyline points="728.8,1315.0 728.8,1282.0 836.6,1282.0" fill="none" stroke="#000" stroke-width="2"/>
<polygon points="856.6,1282.0 834.6,1289.5 834.6,1274.5" fill="#000"/>
<polyline points="930.0,1282.0 1006.0,1282.0 1006.0,1318.8" fill="none" stroke="#000" stroke-width="2"/>
<polygon points="1006.0,1338.8 998.5,1316.8 1013.5,1316.8" fill="#000"/>
<polyline points="1143.0,1366.6 1201.8,1366.6 1201.8,1419.0" fill="none" stroke="#000" stroke-width="2"/>
<polygon points="1201.8,1439.0 1194.3,1417.0 1209.3,1417.0" fill="#000"/>
<polyline points="332.0,1487.0 247.8,1487.0 247.8,1506.6" fill="none" stroke="#000" stroke-width="2"/>
<polygon points="247.8,1526.6 240.3,1504.6 255.3,1504.6" fill="#000"/>
<polyline points="279.0,1605.6 436.0,1605.6" fill="none" stroke="#000" stroke-width="2"/>
<polygon points="456.0,1605.6 434.0,1613.1 434.0,1598.1" fill="#000"/>
<polyline points="496.5,1552.0 496.5,1472.0 431.0,1472.0" fill="none" stroke="#000" stroke-width="2"/>
<polygon points="411.0,1472.0 433.0,1464.5 433.0,1479.5" fill="#000"/>
<polyline points="771.8,1514.6 607.4,1514.6 607.4,1528.0" fill="none" stroke="#000" stroke-width="2"/>
<polygon points="607.4,1548.0 599.9,1526.0 614.9,1526.0" fill="#000"/>
<polyline points="633.0,1605.7 868.0,1605.7" fill="none" stroke="#000" stroke-width="2"/>
<polygon points="888.0,1605.7 866.0,1613.2 866.0,1598.2" fill="#000"/>
<polyline points="920.5,1552.0 920.5,1472.8 846.8,1472.8" fill="none" stroke="#000" stroke-width="2"/>
<polygon points="826.8,1472.8 848.8,1465.3 848.8,1480.3" fill="#000"/>
<polyline points="1185.0,1509.3 1040.0,1509.3 1040.0,1527.6" fill="none" stroke="#000" stroke-width="2"/>
<polygon points="1040.0,1547.6 1032.5,1525.6 1047.5,1525.6" fill="#000"/>
<polyline points="1062.0,1605.0 1373.8,1605.0" fill="none" stroke="#000" stroke-width="2"/>
<polygon points="1393.8,1605.0 1371.8,1612.5 1371.8,1597.5" fill="#000"/>
<polyline points="93.3,1578.7 55.8,1578.7 55.8,1743.8" fill="none" stroke="#000" stroke-width="2"/>
<polygon points="55.8,1763.8 48.3,1741.8 63.3,1741.8" fill="#000"/>
<polyline points="193.6,1806.0 193.6,1839.0" fill="none" stroke="#000" stroke-width="2"/>
<polygon points="193.6,1859.0 186.1,1837.0 201.1,1837.0" fill="#000"/>
<polyline points="56.0,1886.4 56.0,1950.4 304.8,1950.4" fill="none" stroke="#000" stroke-width="2"/>
<polygon points="324.8,1950.4 302.8,1957.9 302.8,1942.9" fill="#000"/>
<polyline points="345.6,1892.8 345.6,1764.8 481.0,1764.8" fill="none" stroke="#000" stroke-width="2"/>
<polygon points="501.0,1764.8 479.0,1772.3 479.0,1757.3" fill="#000"/>
<polyline points="882.0,1748.0 1079.6,1748.0" fill="none" stroke="#000" stroke-width="2"/>
<polygon points="1099.6,1748.0 1077.6,1755.5 1077.6,1740.5" fill="#000"/>
<polyline points="520.8,1884.0 520.8,1944.6" fill="none" stroke="#000" stroke-width="2"/>
<polygon points="520.8,1964.6 513.3,1942.6 528.3,1942.6" fill="#000"/>
<polyline points="657.6,2031.0 711.4,2031.0" fill="none" stroke="#000" stroke-width="2"/>
<polygon points="731.4,2031.0 709.4,2038.5 709.4,2023.5" fill="#000"/>
<polyline points="1262.7,1853.4 1262.7,1886.0" fill="none" stroke="#000" stroke-width="2"/>
<polygon points="1262.7,1906.0 1255.2,1884.0 1270.2,1884.0" fill="#000"/>
<path d="M703.3,1825.5 V1847.5 M699.3,1840 L703.3,1848 L707.3,1840" fill="none" stroke="#000" stroke-width="1.2"/>
<path d="M716,1825.5 V1847.5 M712,1840 L716,1848 L720,1840" fill="none" stroke="#000" stroke-width="1.2"/>
<path d="M726.7,1825.5 V1847.5 M722.7,1840 L726.7,1848 L730.7,1840" fill="none" stroke="#000" stroke-width="1.2"/>
<path d="M736,1825.5 V1847.5 M732,1840 L736,1848 L740,1840" fill="none" stroke="#000" stroke-width="1.2"/>
<path d="M748.7,1825.5 V1847.5 M744.7,1840 L748.7,1848 L752.7,1840" fill="none" stroke="#000" stroke-width="1.2"/>
<path d="M760,1825.5 V1847.5 M756,1840 L760,1848 L764,1840" fill="none" stroke="#000" stroke-width="1.2"/>
<path d="M768.7,1825.5 V1847.5 M764.7,1840 L768.7,1848 L772.7,1840" fill="none" stroke="#000" stroke-width="1.2"/>
<path d="M782,1825.5 V1847.5 M778,1840 L782,1848 L786,1840" fill="none" stroke="#000" stroke-width="1.2"/>
<path d="M792.7,1825.5 V1847.5 M788.7,1840 L792.7,1848 L796.7,1840" fill="none" stroke="#000" stroke-width="1.2"/>
<path d="M802,1825.5 V1847.5 M798,1840 L802,1848 L806,1840" fill="none" stroke="#000" stroke-width="1.2"/>
<path d="M814.7,1825.5 V1847.5 M810.7,1840 L814.7,1848 L818.7,1840" fill="none" stroke="#000" stroke-width="1.2"/>
<path d="M825.3,1825.5 V1847.5 M821.3,1840 L825.3,1848 L829.3,1840" fill="none" stroke="#000" stroke-width="1.2"/>
<path d="M834.7,1825.5 V1847.5 M830.7,1840 L834.7,1848 L838.7,1840" fill="none" stroke="#000" stroke-width="1.2"/>
<path d="M847.3,1825.5 V1847.5 M843.3,1840 L847.3,1848 L851.3,1840" fill="none" stroke="#000" stroke-width="1.2"/>
<path d="M858,1825.5 V1847.5 M854,1840 L858,1848 L862,1840" fill="none" stroke="#000" stroke-width="1.2"/>
<polygon points="310.7,7.5 253.3,98.3 368,98.3 301.9,78.7" fill="#000"/>
<polygon points="317.3,30.7 317.3,69.9 346.1,80.5" fill="#f7941d"/>
<text x="255.5" y="128.5" font-size="27" textLength="110.4" lengthAdjust="spacingAndGlyphs" style="font-family:'Liberation Sans',sans-serif;font-weight:bold;stroke:#000;stroke-width:1.2">LU DONG</text>
<text x="473.4" y="74.1" font-size="67.0" >石墨生产线流程图</text>
<text x="383.0" y="139.0" font-size="46" textLength="721.5" lengthAdjust="spacingAndGlyphs" >Prodution flow chart of graphite plant</text>
<text x="32.2" y="306.4" font-size="25.8" >原矿</text>
<text x="23.0" y="336.0" font-size="20" textLength="71.0" lengthAdjust="spacingAndGlyphs" >Raw ore</text>
<text x="170.2" y="280.5" font-size="26.2" >原矿仓</text>
<text x="156.0" y="305.9" font-size="20" textLength="105.0" lengthAdjust="spacingAndGlyphs" >Raw ore bin</text>
<text x="32.2" y="398.4" font-size="25.9" >给矿机</text>
<text x="42.0" y="425.0" font-size="20" textLength="59.0" lengthAdjust="spacingAndGlyphs" >Feeder</text>
<text x="12.5" y="533.7" font-size="25.9" >鄂式破碎机</text>
<text x="25.0" y="559.0" font-size="20" textLength="103.0" lengthAdjust="spacingAndGlyphs" >Jaw crusher</text>
<text x="462.2" y="230.0" font-size="26.3" >金属探测器</text>
<text x="465.0" y="255.0" font-size="20" textLength="125.7" lengthAdjust="spacingAndGlyphs" >Metal detector</text>
<text x="410.9" y="362.5" font-size="26.1" >圆锥破碎机</text>
<text x="418.0" y="388.0" font-size="20" textLength="117.0" lengthAdjust="spacingAndGlyphs" >Cone crusher</text>
<text x="944.2" y="233.8" font-size="25.8" >振动筛</text>
<text x="909.0" y="258.4" font-size="20" textLength="149.0" lengthAdjust="spacingAndGlyphs" >Vibrating&#160;&#160;Screen</text>
<text x="746.4" y="312.9" font-size="25.5" >电磁除铁器</text>
<text x="752" y="328.7" font-size="18.5" textLength="117" lengthAdjust="spacing">Electromagnetic iron</text>
<text x="786.5" y="342.6" font-size="18.5" textLength="48" lengthAdjust="spacing">remover</text>
<text x="1114.2" y="246.0" font-size="26.1" >筛上</text>
<text x="1099.0" y="276.0" font-size="24" textLength="83.0" lengthAdjust="spacingAndGlyphs" >Oversze</text>
<text x="1259.2" y="400.0" font-size="26.0" >鄂式破碎机</text>
<text x="1271.6" y="424.5" font-size="20" textLength="103.2" lengthAdjust="spacingAndGlyphs" >Jaw crusher</text>
<text x="898.2" y="505.6" font-size="26.2" >粉矿仓</text>
<text x="870.6" y="530.0" font-size="20" textLength="135.1" lengthAdjust="spacingAndGlyphs" >Powder ore bin</text>
<text x="1043.6" y="578.2" font-size="26.2" >给矿机</text>
<text x="1053.0" y="604.0" font-size="20" textLength="58.0" lengthAdjust="spacingAndGlyphs" >Feeder</text>
<text x="966.1" y="738.4" font-size="26.2" >球磨机</text>
<text x="966.0" y="762.0" font-size="20" textLength="78.0" lengthAdjust="spacingAndGlyphs" >Ball&#160;&#160;mill</text>
<text x="1043.7" y="986.0" font-size="26.1" >螺旋分级机</text>
<text x="1044.5" y="1007.7" font-size="20" textLength="128.8" lengthAdjust="spacingAndGlyphs" >Spiral classifier</text>
<text x="215.8" y="698.8" font-size="26.0" >水力旋流器</text>
<text x="220.0" y="723.0" font-size="20" textLength="121.4" lengthAdjust="spacingAndGlyphs" >Hydrocyclone</text>
<text x="427.2" y="818.1" font-size="26.0" >球磨机</text>
<text x="428.0" y="841.4" font-size="20" textLength="76.0" lengthAdjust="spacingAndGlyphs" >Ball&#160;&#160;mill</text>
<text x="803.2" y="951.6" font-size="26.3" >高效搅拌槽</text>
<text x="800.0" y="975.0" font-size="21" textLength="122.8" lengthAdjust="spacingAndGlyphs" style="font-family:'Liberation Mono',monospace" >High-effict</text>
<text x="800.0" y="998.0" font-size="20" textLength="124.4" lengthAdjust="spacingAndGlyphs" >stirring trough</text>
<text x="334.2" y="1114.6" font-size="25.8" >精选</text>
<text x="393.0" y="1115.5" font-size="24" textLength="12.6" lengthAdjust="spacing">I</text>
<text x="325.5" y="1139.0" font-size="20" textLength="91.2" lengthAdjust="spacingAndGlyphs" >Cleaning I</text>
<text x="589.7" y="1117.8" font-size="26.7" >粗选</text>
<text x="575.0" y="1143.0" font-size="20" textLength="85.0" lengthAdjust="spacingAndGlyphs" >Roughing</text>
<text x="882.5" y="1107.0" font-size="26.0" >扫选</text>
<text x="850.6" y="1132.0" font-size="22" textLength="114.4" lengthAdjust="spacingAndGlyphs" >Scavenging</text>
<text x="42.5" y="1252.8" font-size="26.0" >渣浆泵</text>
<text x="27.7" y="1270.6" font-size="20" textLength="106.8" lengthAdjust="spacingAndGlyphs" >Slurry pump</text>
<text x="233.2" y="1279.6" font-size="25.8" >精选</text>
<text x="290.0" y="1280.0" font-size="24" textLength="15.7" lengthAdjust="spacing">II</text>
<text x="224.5" y="1301.5" font-size="20" textLength="92.5" lengthAdjust="spacingAndGlyphs" >Cleaning II</text>
<text x="379.5" y="1370.2" font-size="25.9" >搅拌磨</text>
<text x="358.0" y="1392.4" font-size="20" textLength="123.0" lengthAdjust="spacingAndGlyphs" >Agitation tank</text>
<text x="637.4" y="1278.6" font-size="25.7" >精选</text>
<text x="693.0" y="1278.0" font-size="24" textLength="18.7" lengthAdjust="spacing">III</text>
<text x="628.6" y="1301.5" font-size="20" textLength="92.4" lengthAdjust="spacingAndGlyphs" >Cleaning III</text>
<text x="771.2" y="1362.2" font-size="25.7" >搅拌磨</text>
<text x="748.6" y="1385.6" font-size="20" textLength="122.4" lengthAdjust="spacingAndGlyphs" >Agitation tank</text>
<text x="1050.2" y="1282.1" font-size="25.8" >精选</text>
<text x="1104.0" y="1282.0" font-size="24" textLength="20.8" lengthAdjust="spacing">IV</text>
<text x="1040.8" y="1308.0" font-size="20" textLength="94.2" lengthAdjust="spacingAndGlyphs" >Cleaning IV</text>
<text x="1163.2" y="1260.6" font-size="26.1" >渣浆泵</text>
<text x="1148.0" y="1279.0" font-size="20" textLength="107.0" lengthAdjust="spacingAndGlyphs" >Slurry pump</text>
<text x="1262.4" y="1389.2" font-size="26.2" >打至尾矿库</text>
<text x="1263.0" y="1412.0" font-size="20" textLength="134.6" lengthAdjust="spacingAndGlyphs" >To tailings dam</text>
<text x="143.7" y="1486.2" font-size="25.8" >精选</text>
<text x="202.0" y="1486.0" font-size="24" textLength="15.0" lengthAdjust="spacing">V</text>
<text x="133.9" y="1510.4" font-size="20" textLength="93.8" lengthAdjust="spacingAndGlyphs" >Cleaning V</text>
<text x="290.1" y="1556.1" font-size="26.4" >搅拌磨</text>
<text x="268.0" y="1580.0" font-size="20" textLength="122.7" lengthAdjust="spacingAndGlyphs" >Agitation tank</text>
<text x="514.9" y="1500.5" font-size="25.8" >精选</text>
<text x="570.0" y="1500.0" font-size="24" textLength="20.3" lengthAdjust="spacing">VI</text>
<text x="505.0" y="1524.5" font-size="20" textLength="93.9" lengthAdjust="spacingAndGlyphs" >Cleaning VI</text>
<text x="669.8" y="1560.1" font-size="26.2" >搅拌磨</text>
<text x="647.0" y="1585.0" font-size="20" textLength="122.6" lengthAdjust="spacingAndGlyphs" >Agitation tank</text>
<text x="943.9" y="1503.8" font-size="25.8" >精选</text>
<text x="997.0" y="1503.6" font-size="24" textLength="23.4" lengthAdjust="spacing">VII</text>
<text x="936.0" y="1529.0" font-size="20" textLength="95.0" lengthAdjust="spacingAndGlyphs" >Cleaning VII</text>
<text x="1085.5" y="1550.2" font-size="26.2" >搅拌磨</text>
<text x="1063.5" y="1574.0" font-size="20" textLength="124.0" lengthAdjust="spacingAndGlyphs" >Agitation tank</text>
<text x="1396.5" y="1663.9" font-size="25.8" >渣浆泵</text>
<text x="1381.0" y="1682.0" font-size="20" textLength="107.3" lengthAdjust="spacingAndGlyphs" >Slurry pump</text>
<text x="120.8" y="1714.7" font-size="25.9" >高效浓缩机</text>
<text x="84.8" y="1740.8" font-size="21" textLength="168.0" lengthAdjust="spacingAndGlyphs" style="font-family:'Liberation Mono',monospace" >High efficiency</text>
<text x="107.0" y="1768.0" font-size="21" textLength="134.6" lengthAdjust="spacingAndGlyphs" style="font-family:'Liberation Mono',monospace" >concentrator</text>
<text x="164.0" y="1901.9" font-size="26.1" >溢流水</text>
<text x="107.0" y="1926.4" font-size="20" textLength="195.4" lengthAdjust="spacingAndGlyphs" >The overflow of water</text>
<text x="328.8" y="2018.7" font-size="26.1" >渣浆泵</text>
<text x="315.0" y="2036.8" font-size="20" textLength="107.4" lengthAdjust="spacingAndGlyphs" >Slurry pump</text>
<text x="468.7" y="1705.2" font-size="25.7" >箱式压滤机</text>
<text x="485.0" y="1730.0" font-size="20" textLength="95.5" lengthAdjust="spacingAndGlyphs" >Filter press</text>
<text x="922.1" y="1711.2" font-size="24.4" >溢流返回系统</text>
<text x="920.5" y="1735.3" font-size="20" textLength="149.5" lengthAdjust="spacingAndGlyphs" >Overflow recycle</text>
<text x="507.4" y="2164.4" font-size="26.0" >烘干系统</text>
<text x="498.5" y="2189.6" font-size="20" textLength="123.1" lengthAdjust="spacingAndGlyphs" >Drying system</text>
<text x="775.6" y="2133.8" font-size="25.7" >包装机</text>
<text x="736.8" y="2160.8" font-size="20" textLength="154.8" lengthAdjust="spacingAndGlyphs" >Packaing machine</text>
<text x="1095.2" y="2137.7" font-size="25.5" >吨包机</text>
<text x="1035.0" y="2162.8" font-size="20" textLength="195.4" lengthAdjust="spacingAndGlyphs" >Tons of charter flights</text>
<text x="1407.2" y="1910.5" font-size="25.3" >成品</text>
<text x="1395.0" y="1936.0" font-size="21" textLength="75.0" lengthAdjust="spacingAndGlyphs" >Finished</text>
<text x="1407.2" y="2011.2" font-size="25.3" >成品</text>
<text x="1395.0" y="2036.7" font-size="21" textLength="75.0" lengthAdjust="spacingAndGlyphs" >Finished</text>
<text x="1407.2" y="2111.9" font-size="25.3" >成品</text>
<text x="1395.0" y="2137.4" font-size="21" textLength="75.0" lengthAdjust="spacingAndGlyphs" >Finished</text>
<g transform="translate(289.52,542.59) rotate(-29.95)"><text x="0" y="4" font-size="26" textLength="163" lengthAdjust="spacingAndGlyphs">1#皮带运输机</text><text x="174" y="6" font-size="21" textLength="121" lengthAdjust="spacingAndGlyphs">Belt conveyor</text><path d="M297,-1 H322 M316,-5 L322,-1 L316,3" fill="none" stroke="#000" stroke-width="1.2"/></g>
<g transform="translate(640.93,347.62) rotate(14.91)"><text x="23" y="8" font-size="26" textLength="160" lengthAdjust="spacingAndGlyphs">2#皮带运输机</text><text x="185" y="7" font-size="22" textLength="120" lengthAdjust="spacingAndGlyphs">Belt conveyor</text><path d="M21,1 H1 M7,-3 L1,1 L7,5" fill="none" stroke="#000" stroke-width="1.2"/></g>
<g transform="translate(1011.00,655.50) rotate(0.00)"><text x="0" y="10" font-size="25" textLength="158.6" lengthAdjust="spacingAndGlyphs">3#皮带运输机</text><text x="159.7" y="8.8" font-size="20" textLength="122.0" lengthAdjust="spacingAndGlyphs">Belt conveyor</text></g>
<g transform="translate(673.50,1870.50) rotate(0.00)"><text x="0" y="9.3" font-size="25" textLength="158.5" lengthAdjust="spacingAndGlyphs">4#皮带运输机</text><text x="159.8" y="7.5" font-size="20" textLength="121.19999999999999" lengthAdjust="spacingAndGlyphs">Belt conveyor</text></g>
<g transform="translate(944.60,2047.35) rotate(-29.82)"><text x="0" y="4" font-size="26" textLength="157" lengthAdjust="spacingAndGlyphs">5#皮带运输机</text><text x="162" y="5" font-size="21" textLength="122" lengthAdjust="spacingAndGlyphs">Belt conveyor</text></g>
</svg></body></html>
